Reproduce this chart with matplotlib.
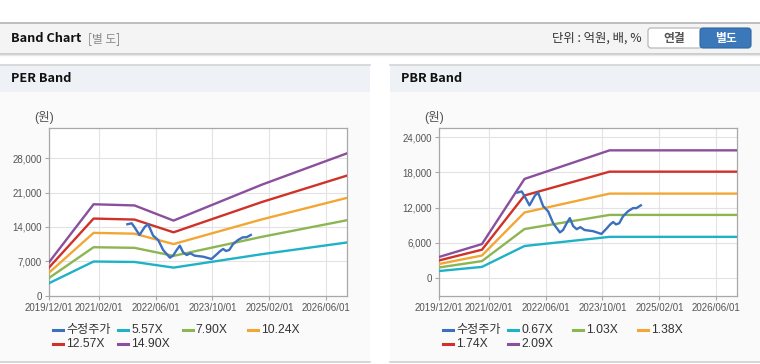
import matplotlib
matplotlib.use("Agg")
import matplotlib.pyplot as plt
import matplotlib.dates as mdates
import matplotlib.transforms as mtransforms
from matplotlib.patches import Rectangle, FancyBboxPatch
from matplotlib.lines import Line2D
from matplotlib.ticker import FuncFormatter
import pandas as pd

plt.rcParams['font.family'] = ['Liberation Sans', 'Noto Sans CJK KR']

# ---- data ----
price_dates = ['2021-10-01', '2021-11-07', '2021-11-28', '2022-01-13', '2022-03-01', '2022-03-28',
               '2022-05-10', '2022-06-22', '2022-08-04', '2022-10-01', '2022-10-28', '2022-11-28',
               '2022-12-25', '2023-01-22', '2023-02-22', '2023-03-25', '2023-05-01', '2023-07-13',
               '2023-09-22', '2023-11-07', '2023-12-04', '2024-01-01', '2024-01-25', '2024-02-22',
               '2024-03-25', '2024-05-07', '2024-06-19', '2024-07-19', '2024-08-25']
price = [14550, 14750, 14060, 12370, 14060, 14550, 12230, 11350, 9310, 7740, 8150, 9310,
         10190, 8840, 8290, 8640, 8150, 7950, 7480, 8440, 9050, 9520, 9110, 9310,
         10480, 11350, 11900, 11900, 12370]

per_dates = ['2019-12-01', '2020-12-15', '2021-12-01', '2022-11-01', '2024-12-01', '2026-12-01']
per_labels = ['5.57X', '7.90X', '10.24X', '12.57X', '14.90X']
per_557 = [2573, 6963, 6873, 5720, 8466, 10850]
per_790 = [3650, 9875, 9749, 8113, 12008, 15389]
per_1024 = [4731, 12800, 12636, 10516, 15565, 19948]
per_1257 = [5807, 15713, 15511, 12909, 19106, 24486]
per_1490 = [6884, 18625, 18387, 15302, 22648, 29025]

pbr_dates = ['2019-12-01', '2020-12-01', '2021-12-01', '2023-12-01', '2026-12-01']
pbr_labels = ['0.67X', '1.03X', '1.38X', '1.74X', '2.09X']
pbr_067 = [1139, 1843, 5414, 6981, 6981]
pbr_103 = [1751, 2833, 8322, 10733, 10733]
pbr_138 = [2346, 3795, 11150, 14380, 14380]
pbr_174 = [2958, 4785, 14059, 18131, 18131]
pbr_209 = [3553, 5748, 16887, 21778, 21778]

x_ticks = ['2019/12/01', '2021/02/01', '2022/06/01', '2023/10/01', '2025/02/01', '2026/06/01']
per_yticks = [0, 7000, 14000, 21000, 28000]
pbr_yticks = [0, 6000, 12000, 18000, 24000]

price_color = '#3c70be'
band_colors = ['#1fb2c6', '#8cb652', '#f2a735', '#cf3229', '#8a4f9d']

W, H = 760, 364
fig = plt.figure(figsize=(W / 100, H / 100), dpi=100)
fig.patch.set_facecolor('white')
px = mtransforms.IdentityTransform()


def rect(x0, y0, x1, y1, fc, ec='none', lw=0):
    fig.add_artist(Rectangle((x0, H - y1), x1 - x0, y1 - y0, transform=px,
                             facecolor=fc, edgecolor=ec, linewidth=lw, zorder=0))


def hline(x0, x1, y, color, lw=1.0):
    fig.add_artist(Line2D([x0, x1], [H - y, H - y], transform=px, color=color, lw=lw, zorder=1))


def text(x, y, s, **kw):
    fig.text(x, H - y, s, transform=px, **kw)


# header
rect(0, 23, W, 53, '#f4f4f4')
hline(0, W, 22.5, '#b4b4b4', 1.2)
hline(0, W, 53.5, '#c4c4c4', 1.2)
hline(0, W, 54.5, '#e8e8e8', 1.0)
text(11, 38.5, 'Band Chart', fontsize=9.2, fontweight='bold', color='#111111',
     family=['Noto Sans CJK KR'], va='center')
text(88, 38.5, '[별 도]', fontsize=8.5, color='#888888', family=['Noto Sans CJK KR'], va='center')
text(642, 38.5, '단위 : 억원, 배, %', fontsize=8.9, color='#333333',
     family=['Noto Sans CJK KR'], va='center', ha='right')
fig.add_artist(FancyBboxPatch((648, H - 48), 54, 20, boxstyle='round,pad=0,rounding_size=3',
                              transform=px, facecolor='white', edgecolor='#b0b0b0', lw=0.8))
fig.add_artist(FancyBboxPatch((700, H - 48), 51, 20, boxstyle='round,pad=0,rounding_size=3',
                              transform=px, facecolor='#3a78b9', edgecolor='#2f67a3', lw=0.8))
text(674, 38.5, '연결', fontsize=8.5, fontweight='bold', color='#555555',
     family=['Noto Sans CJK KR'], va='center', ha='center')
text(725.5, 38.5, '별도', fontsize=8.5, fontweight='bold', color='white',
     family=['Noto Sans CJK KR'], va='center', ha='center')

# panels
for x0, x1, title in [(0, 370, 'PER Band'), (390, W, 'PBR Band')]:
    rect(x0, 64, x1, 92, '#eef2f7')
    rect(x0, 92, x1, 361, '#fafafa')
    hline(x0, x1, 64.5, '#d4d4d4', 1.2)
    hline(x0, x1, 361.5, '#d0d0d0', 1.2)
    text(x0 + 11, 79, title, fontsize=9.2, fontweight='bold', color='#111111',
         family=['Noto Sans CJK KR'], va='center')


def draw_chart(left, bottom_px, top_px, ylim, yticks, band_dates, bands, labels):
    ax = fig.add_axes([left / W, 1 - bottom_px / H, 298 / W, (bottom_px - top_px) / H])
    ax.set_facecolor('white')
    ax.plot(pd.to_datetime(price_dates), price, color=price_color, lw=1.7, zorder=5)
    bd = pd.to_datetime(band_dates)
    for vals, c in zip(bands, band_colors):
        ax.plot(bd, vals, color=c, lw=1.7, zorder=4)
    ax.set_xlim(pd.Timestamp('2019-12-01'), pd.Timestamp('2026-12-01'))
    ax.set_ylim(*ylim)
    ax.set_xticks(pd.to_datetime(x_ticks, format='%Y/%m/%d'))
    ax.xaxis.set_major_formatter(mdates.DateFormatter('%Y/%m/%d'))
    ax.set_yticks(yticks)
    ax.yaxis.set_major_formatter(FuncFormatter(lambda v, p: f'{int(v):,}'))
    ax.grid(True, color='#e3e3e3', lw=0.8)
    ax.set_axisbelow(True)
    for s in ax.spines.values():
        s.set_color('#a8a8a8')
        s.set_linewidth(0.9)
    ax.tick_params(colors='#a8a8a8', labelcolor='#555555', labelsize=7.0, length=3, width=0.8, pad=2.5)
    text(left - 5, 117.5, '(원)', fontsize=9, color='#555555', ha='center', va='center')
    # legend
    names = ['수정주가'] + labels
    cols = [price_color] + band_colors
    for i, (n, c) in enumerate(zip(names, cols)):
        x0 = left + 4 + (i % 4) * 64.8
        y = 330 + (i // 4) * 13.7
        fig.add_artist(Line2D([x0, x0 + 10], [H - y, H - y], transform=px, color=c, lw=2.2))
        text(x0 + 13, y, n, fontsize=8.7, color='#333333', va='center')
    return ax


draw_chart(49.3, 295.7, 128.3, (0, 34100), per_yticks, per_dates,
           [per_557, per_790, per_1024, per_1257, per_1490], per_labels)
draw_chart(439.3, 295.5, 128.0, (-3050, 25600), pbr_yticks, pbr_dates,
           [pbr_067, pbr_103, pbr_138, pbr_174, pbr_209], pbr_labels)

fig.savefig('out.png', dpi=100, facecolor='white')
